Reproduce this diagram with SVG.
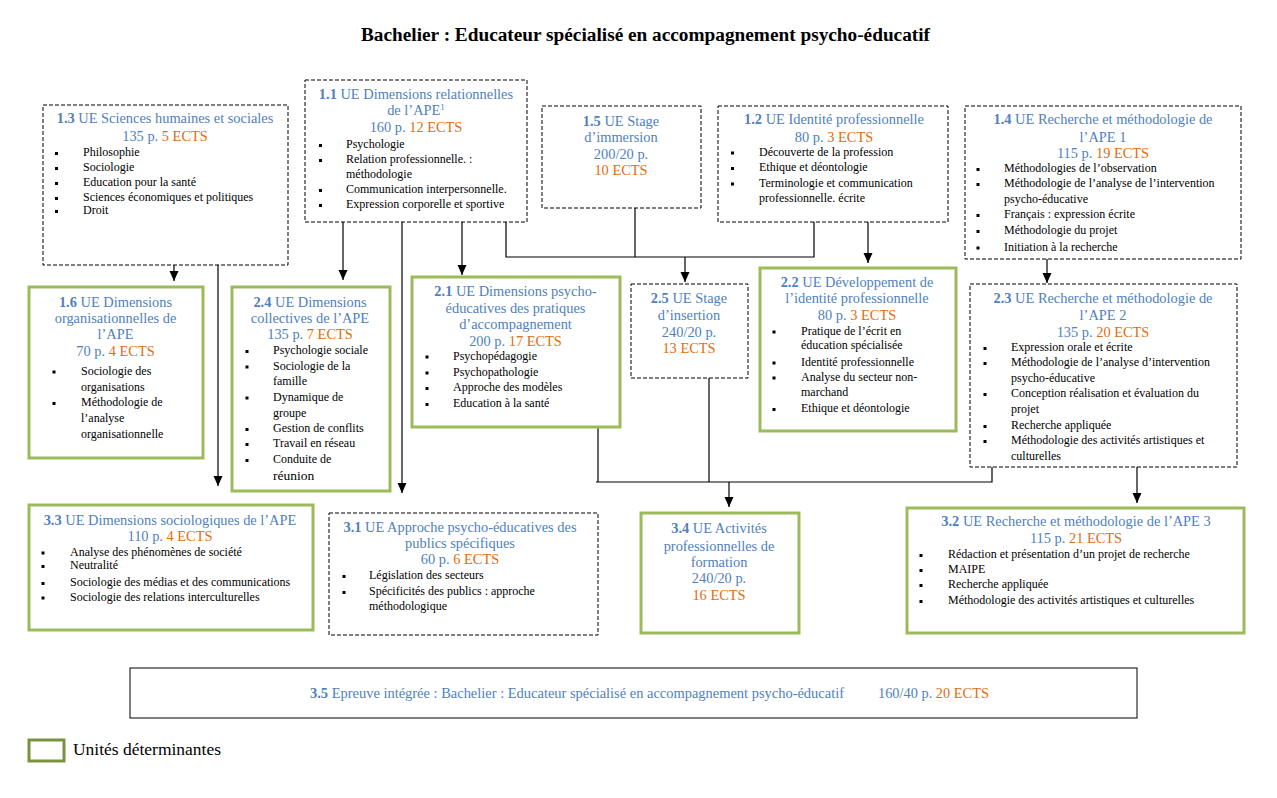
<svg xmlns="http://www.w3.org/2000/svg" width="1277" height="798" viewBox="0 0 1277 798">
<style>
.bg{fill:#fff}
.d{fill:#fff;stroke:#000;stroke-width:1;stroke-dasharray:4 2}
.g{fill:#fff;stroke:#9BBB59;stroke-width:3}
.s{fill:#fff;stroke:#000;stroke-width:1}
text{font-family:"Liberation Serif","Tinos","Times New Roman","DejaVu Serif",serif}
.t{font-size:14.4px;fill:#4F81BD;text-anchor:middle}
.ts{font-size:14px;fill:#4F81BD;text-anchor:start}
.b{font-size:12px;fill:#000}
.o{fill:#E46C0A}
.n{font-weight:bold}
.m{fill:#000}
.c line,.c polyline{stroke:#000;stroke-width:1.2;fill:none}
.a{marker-end:url(#ah)}
</style>
<defs>
<marker id="ah" viewBox="0 0 10 10" refX="10" refY="5" markerWidth="10" markerHeight="10" markerUnits="userSpaceOnUse" orient="auto">
<path d="M0,0.5 L10,5 L0,9.5 Z" fill="#000"/>
</marker>
<rect id="bl" width="3" height="3" class="m"/>
</defs>
<rect class="bg" x="0" y="0" width="1277" height="798"/>
<text x="645.5" y="41" font-size="18" font-weight="bold" text-anchor="middle" fill="#000" textLength="569" lengthAdjust="spacingAndGlyphs">Bachelier : Educateur spécialisé en accompagnement psycho-éducatif</text>

<g class="c" id="connectors">
<line class="a" x1="174" y1="265" x2="174" y2="281"/>
<line class="a" x1="218" y1="265" x2="218" y2="486"/>
<line class="a" x1="343" y1="222" x2="343" y2="280"/>
<line class="a" x1="402" y1="222" x2="402" y2="493"/>
<line class="a" x1="462" y1="222" x2="462" y2="275"/>
<polyline points="506,222 506,257 814,257 814,222"/>
<line x1="635" y1="208" x2="635" y2="257"/>
<line class="a" x1="685" y1="257" x2="685" y2="282"/>
<line class="a" x1="868" y1="222" x2="868" y2="263"/>
<line class="a" x1="1047" y1="259" x2="1047" y2="283"/>
<line x1="598" y1="427" x2="598" y2="482"/>
<line x1="709" y1="378" x2="709" y2="482"/>
<polyline points="596,482 992,482 992,467"/>
<line class="a" x1="729" y1="482" x2="729" y2="507"/>
<line class="a" x1="1137" y1="467" x2="1137" y2="503"/>
</g>

<g id="n13">
<rect class="d" x="43" y="105" width="245" height="160"/>
<text class="t" x="165" y="123"><tspan class="n">1.3</tspan> UE Sciences humaines et sociales</text>
<text class="t" x="165" y="141">135 p. <tspan class="o">5 ECTS</tspan></text>
<use href="#bl" x="55" y="152"/><text class="b" x="83" y="156">Philosophie</text>
<use href="#bl" x="55" y="167"/><text class="b" x="83" y="171">Sociologie</text>
<use href="#bl" x="55" y="182"/><text class="b" x="83" y="186">Education pour la santé</text>
<use href="#bl" x="55" y="197"/><text class="b" x="83" y="201">Sciences économiques et politiques</text>
<use href="#bl" x="55" y="210"/><text class="b" x="83" y="214">Droit</text>
</g>

<g id="n11">
<rect class="d" x="305" y="80" width="222" height="142"/>
<text class="t" x="416" y="99"><tspan class="n">1.1</tspan> UE Dimensions relationnelles</text>
<text class="t" x="416" y="115">de l’APE<tspan font-size="9" dy="-5">1</tspan></text>
<text class="t" x="416" y="132">160 p. <tspan class="o">12 ECTS</tspan></text>
<use href="#bl" x="319" y="144"/><text class="b" x="346" y="148">Psychologie</text>
<use href="#bl" x="319" y="159"/><text class="b" x="346" y="163">Relation professionnelle. :</text>
<text class="b" x="346" y="178">méthodologie</text>
<use href="#bl" x="319" y="189"/><text class="b" x="346" y="193">Communication interpersonnelle.</text>
<use href="#bl" x="319" y="204"/><text class="b" x="346" y="208">Expression corporelle et sportive</text>
</g>

<g id="n15">
<rect class="d" x="542" y="106" width="159" height="102"/>
<text class="t" x="621" y="126"><tspan class="n">1.5</tspan> UE Stage</text>
<text class="t" x="621" y="142">d’immersion</text>
<text class="t" x="621" y="159">200/20 p.</text>
<text class="t o" x="621" y="175">10 ECTS</text>
</g>

<g id="n12">
<rect class="d" x="718" y="106" width="230" height="116"/>
<text class="t" x="834" y="124"><tspan class="n">1.2</tspan> UE Identité professionnelle</text>
<text class="t" x="834" y="141.5">80 p. <tspan class="o">3 ECTS</tspan></text>
<use href="#bl" x="731" y="151.5"/><text class="b" x="759" y="155.5">Découverte de la profession</text>
<use href="#bl" x="731" y="167"/><text class="b" x="759" y="171">Ethique et déontologie</text>
<use href="#bl" x="731" y="182.5"/><text class="b" x="759" y="186.5">Terminologie et communication</text>
<text class="b" x="759" y="202">professionnelle. écrite</text>
</g>

<g id="n14">
<rect class="d" x="965" y="106" width="276" height="153"/>
<text class="t" x="1103" y="124"><tspan class="n">1.4</tspan> UE Recherche et méthodologie de</text>
<text class="t" x="1103" y="141.5">l’APE 1</text>
<text class="t" x="1103" y="157.5">115 p. <tspan class="o">19 ECTS</tspan></text>
<use href="#bl" x="976.5" y="168"/><text class="b" x="1004" y="172">Méthodologies de l’observation</text>
<use href="#bl" x="976.5" y="183"/><text class="b" x="1004" y="187">Méthodologie de l’analyse de l’intervention</text>
<text class="b" x="1004" y="203">psycho-éducative</text>
<use href="#bl" x="976.5" y="214"/><text class="b" x="1004" y="218">Français : expression écrite</text>
<use href="#bl" x="976.5" y="230"/><text class="b" x="1004" y="234">Méthodologie du projet</text>
<use href="#bl" x="976.5" y="246.5"/><text class="b" x="1004" y="250.5">Initiation à la recherche</text>
</g>

<g id="n16">
<rect class="g" x="29" y="287" width="174" height="171"/>
<text class="t" x="115.5" y="306.5"><tspan class="n">1.6</tspan> UE Dimensions</text>
<text class="t" x="115.5" y="323">organisationnelles de</text>
<text class="t" x="115.5" y="339">l’APE</text>
<text class="t" x="115.5" y="356">70 p. <tspan class="o">4 ECTS</tspan></text>
<use href="#bl" x="52.5" y="370.5"/><text class="b" x="81" y="374.5">Sociologie des</text>
<text class="b" x="81" y="390.5">organisations</text>
<use href="#bl" x="52.5" y="402"/><text class="b" x="81" y="406">Méthodologie de</text>
<text class="b" x="81" y="422">l’analyse</text>
<text class="b" x="81" y="438">organisationnelle</text>
</g>

<g id="n24">
<rect class="g" x="232" y="287" width="158" height="204"/>
<text class="t" x="310" y="306.5"><tspan class="n">2.4</tspan> UE Dimensions</text>
<text class="t" x="310" y="323">collectives de l’APE</text>
<text class="t" x="310" y="339">135 p. <tspan class="o">7 ECTS</tspan></text>
<use href="#bl" x="245.5" y="350"/><text class="b" x="273" y="354">Psychologie sociale</text>
<use href="#bl" x="245.5" y="365.5"/><text class="b" x="273" y="369.5">Sociologie de la</text>
<text class="b" x="273" y="385">famille</text>
<use href="#bl" x="245.5" y="396.5"/><text class="b" x="273" y="400.5">Dynamique de</text>
<text class="b" x="273" y="416.5">groupe</text>
<use href="#bl" x="245.5" y="428"/><text class="b" x="273" y="432">Gestion de conflits</text>
<use href="#bl" x="245.5" y="443"/><text class="b" x="273" y="447">Travail en réseau</text>
<use href="#bl" x="245.5" y="459"/><text class="b" x="273" y="463">Conduite de</text>
<text class="b" x="273" y="480" style="font-size:13.5px">réunion</text>
</g>

<g id="n21">
<rect class="g" x="412" y="277" width="208" height="150"/>
<text class="t" x="515.5" y="296"><tspan class="n">2.1</tspan> UE Dimensions psycho-</text>
<text class="t" x="515.5" y="313">éducatives des pratiques</text>
<text class="t" x="515.5" y="329">d’accompagnement</text>
<text class="t" x="515.5" y="346">200 p. <tspan class="o">17 ECTS</tspan></text>
<use href="#bl" x="425.5" y="355.5"/><text class="b" x="453" y="359.5">Psychopédagogie</text>
<use href="#bl" x="425.5" y="371.5"/><text class="b" x="453" y="375.5">Psychopathologie</text>
<use href="#bl" x="425.5" y="387"/><text class="b" x="453" y="391">Approche des modèles</text>
<use href="#bl" x="425.5" y="403"/><text class="b" x="453" y="407">Education à la santé</text>
</g>

<g id="n25">
<rect class="d" x="631" y="284" width="117" height="94"/>
<text class="t" x="689" y="303"><tspan class="n">2.5</tspan> UE Stage</text>
<text class="t" x="689" y="320">d’insertion</text>
<text class="t" x="689" y="336.5">240/20 p.</text>
<text class="t o" x="689" y="353">13 ECTS</text>
</g>

<g id="n22">
<rect class="g" x="760" y="268" width="196" height="163"/>
<text class="t" x="857" y="286.5"><tspan class="n">2.2</tspan> UE Développement de</text>
<text class="t" x="857" y="303">l’identité professionnelle</text>
<text class="t" x="857" y="320">80 p. <tspan class="o">3 ECTS</tspan></text>
<use href="#bl" x="772.5" y="330.5"/><text class="b" x="801" y="334.5">Pratique de l’écrit en</text>
<text class="b" x="801" y="349">éducation spécialisée</text>
<use href="#bl" x="772.5" y="361.5"/><text class="b" x="801" y="365.5">Identité professionnelle</text>
<use href="#bl" x="772.5" y="376.5"/><text class="b" x="801" y="380.5">Analyse du secteur non-</text>
<text class="b" x="801" y="395.5">marchand</text>
<use href="#bl" x="772.5" y="408"/><text class="b" x="801" y="412">Ethique et déontologie</text>
</g>

<g id="n23">
<rect class="d" x="970" y="284" width="267" height="183"/>
<text class="t" x="1103" y="303"><tspan class="n">2.3</tspan> UE Recherche et méthodologie de</text>
<text class="t" x="1103" y="320">l’APE 2</text>
<text class="t" x="1103" y="336.5">135 p. <tspan class="o">20 ECTS</tspan></text>
<use href="#bl" x="983.5" y="347"/><text class="b" x="1011" y="351">Expression orale et écrite</text>
<use href="#bl" x="983.5" y="362"/><text class="b" x="1011" y="366">Méthodologie de l’analyse d’intervention</text>
<text class="b" x="1011" y="382">psycho-éducative</text>
<use href="#bl" x="983.5" y="393"/><text class="b" x="1011" y="397">Conception réalisation et évaluation du</text>
<text class="b" x="1011" y="413">projet</text>
<use href="#bl" x="983.5" y="425"/><text class="b" x="1011" y="429">Recherche appliquée</text>
<use href="#bl" x="983.5" y="440"/><text class="b" x="1011" y="444">Méthodologie des activités artistiques et</text>
<text class="b" x="1011" y="460">culturelles</text>
</g>

<g id="n33">
<rect class="g" x="29" y="505" width="284" height="125"/>
<text class="t" x="170" y="525"><tspan class="n">3.3</tspan> UE Dimensions sociologiques de l’APE</text>
<text class="t" x="170" y="540.5">110 p. <tspan class="o">4 ECTS</tspan></text>
<use href="#bl" x="41.5" y="551.5"/><text class="b" x="70" y="555.5">Analyse des phénomènes de société</text>
<use href="#bl" x="41.5" y="565"/><text class="b" x="70" y="569">Neutralité</text>
<use href="#bl" x="41.5" y="582"/><text class="b" x="70" y="586">Sociologie des médias et des communications</text>
<use href="#bl" x="41.5" y="596.5"/><text class="b" x="70" y="600.5">Sociologie des relations interculturelles</text>
</g>

<g id="n31">
<rect class="d" x="329" y="513" width="269" height="122"/>
<text class="t" x="460" y="532"><tspan class="n">3.1</tspan> UE Approche psycho-éducatives des</text>
<text class="t" x="460" y="548">publics spécifiques</text>
<text class="t" x="460" y="564">60 p. <tspan class="o">6 ECTS</tspan></text>
<use href="#bl" x="342.5" y="575"/><text class="b" x="369" y="579">Législation des secteurs</text>
<use href="#bl" x="342.5" y="591"/><text class="b" x="369" y="595">Spécificités des publics : approche</text>
<text class="b" x="369" y="610">méthodologique</text>
</g>

<g id="n34">
<rect class="g" x="641" y="513" width="158" height="120"/>
<text class="t" x="719" y="533"><tspan class="n">3.4</tspan> UE Activités</text>
<text class="t" x="719" y="550.5">professionnelles de</text>
<text class="t" x="719" y="566.5">formation</text>
<text class="t" x="719" y="583">240/20 p.</text>
<text class="t o" x="719" y="600">16 ECTS</text>
</g>

<g id="n32">
<rect class="g" x="907" y="508" width="337" height="125"/>
<text class="t" x="1076" y="526"><tspan class="n">3.2</tspan> UE Recherche et méthodologie de l’APE 3</text>
<text class="t" x="1076" y="542.5">115 p. <tspan class="o">21 ECTS</tspan></text>
<use href="#bl" x="919.5" y="554"/><text class="b" x="948" y="558">Rédaction et présentation d’un projet de recherche</text>
<use href="#bl" x="919.5" y="569"/><text class="b" x="948" y="573">MAIPE</text>
<use href="#bl" x="919.5" y="584"/><text class="b" x="948" y="588">Recherche appliquée</text>
<use href="#bl" x="919.5" y="600"/><text class="b" x="948" y="604">Méthodologie des activités artistiques et culturelles</text>
</g>

<g id="n35">
<rect class="s" x="130" y="668" width="1007" height="50"/>
<text class="ts" x="310" y="698" textLength="534" lengthAdjust="spacingAndGlyphs"><tspan class="n">3.5</tspan> Epreuve intégrée : Bachelier : Educateur spécialisé en accompagnement psycho-éducatif</text>
<text class="ts" x="878" y="698" textLength="111" lengthAdjust="spacingAndGlyphs">160/40 p. <tspan class="o">20 ECTS</tspan></text>
</g>

<g id="legend">
<rect x="29" y="740" width="35" height="21" fill="#fff" stroke="#77933C" stroke-width="3"/>
<text x="73" y="755" font-size="16.5" fill="#000" textLength="148" lengthAdjust="spacingAndGlyphs">Unités déterminantes</text>
</g>
</svg>
